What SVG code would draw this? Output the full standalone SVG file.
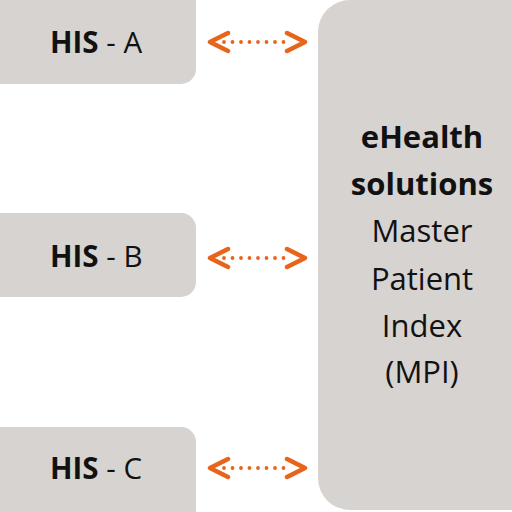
<svg xmlns="http://www.w3.org/2000/svg" width="512" height="512" viewBox="0 0 512 512">
<style>
.box{fill:#d6d3d1;}
.t{font-family:"Open Sans","Noto Sans",sans-serif;font-size:29.5px;fill:#111;}
.m{font-family:"Open Sans","Noto Sans",sans-serif;font-size:31px;fill:#111;text-anchor:middle;}
.b{font-weight:bold;}
.dot{stroke:#e8641b;stroke-width:3.8;stroke-linecap:round;stroke-dasharray:0 8.5;fill:none;}
.chev{stroke:#e8641b;stroke-width:4.5;stroke-linecap:round;stroke-linejoin:round;fill:none;}
</style>
<rect width="512" height="512" fill="#fff"/>
<g id="his-a"><rect class="box" x="-20" y="-20" width="216" height="104" rx="15"/><text class="t" x="50" y="53"><tspan class="b">HIS</tspan> - A</text></g>
<g id="his-b"><rect class="box" x="-20" y="213" width="216" height="84" rx="15"/><text class="t" x="50" y="267"><tspan class="b">HIS</tspan> - B</text></g>
<g id="his-c"><rect class="box" x="-20" y="427" width="216" height="104" rx="15"/><text class="t" x="50" y="479"><tspan class="b">HIS</tspan> - C</text></g>
<g id="mpi"><rect class="box" x="318" y="0" width="230" height="510" rx="32"/>
<text class="m b" x="422" y="148">eHealth</text>
<text class="m b" x="422" y="195">solutions</text>
<text class="m" x="422" y="242">Master</text>
<text class="m" x="422" y="290">Patient</text>
<text class="m" x="422" y="337">Index</text>
<text class="m" x="422" y="383">(MPI)</text>
</g>
<g id="connectors">
<g transform="translate(0,42)"><path class="chev" d="M228 -9 L210 0 L228 9 M287 -9 L305 0 L287 9"/><path class="dot" d="M224 0 H292"/></g>
<g transform="translate(0,258)"><path class="chev" d="M228 -9 L210 0 L228 9 M287 -9 L305 0 L287 9"/><path class="dot" d="M224 0 H292"/></g>
<g transform="translate(0,468)"><path class="chev" d="M228 -9 L210 0 L228 9 M287 -9 L305 0 L287 9"/><path class="dot" d="M224 0 H292"/></g>
</g>
</svg>
